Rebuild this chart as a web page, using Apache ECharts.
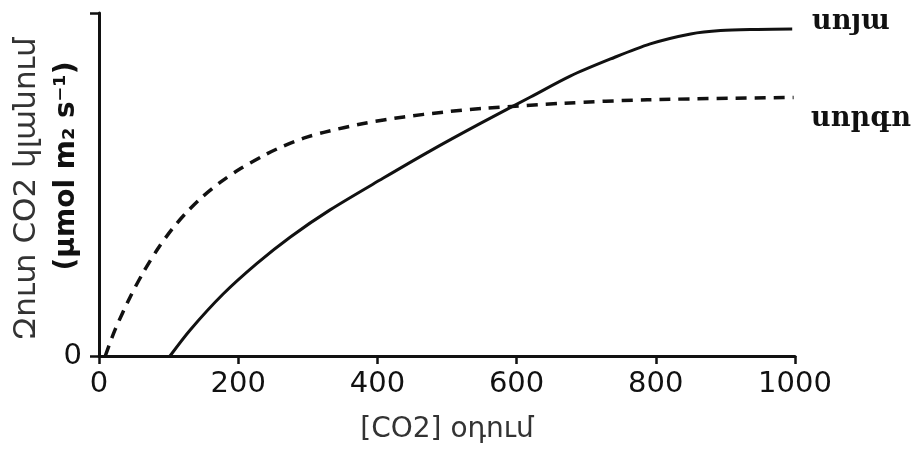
<!DOCTYPE html>
<html>
<head>
<meta charset="utf-8">
<script src="https://cdn.jsdelivr.net/npm/echarts@6/dist/echarts.min.js"></script>
<style>
html,body{margin:0;padding:0;background:#fff;}
#chart{width:917px;height:451px;}
</style>
</head>
<body>
<div id="chart"></div>
<script>
// ---- data ----
const xTicks = [0, 200, 400, 600, 800, 1000];
const yTickLabels = ['0'];
const soyX = [102, 131, 178, 227, 275, 332, 408, 476, 548, 620, 677, 735, 792, 850, 893, 946, 996];
const soyY = [0, 7.6, 18.0, 27.0, 34.7, 42.6, 51.8, 59.8, 67.8, 75.5, 81.6, 86.6, 91.0, 93.9, 94.9, 95.2, 95.3];
const sorgoX = [9, 23, 45, 64, 85, 105, 126, 148, 174, 200, 241, 265, 294, 323, 380, 438, 495, 553, 668, 788, 998];
const sorgoY = [0, 7.6, 17.3, 24.5, 31.4, 37.0, 41.9, 46.3, 50.6, 54.2, 58.9, 61.2, 63.5, 65.2, 67.8, 69.7, 71.1, 72.2, 73.7, 74.7, 75.4];
const seriesNames = ['սոյա', 'սորգո'];
const xAxisName = '[CO2] օդում';
const yAxisName1 = 'Զուտ CO2 կլանում';
const yAxisName2 = '(μmol m₂ s⁻¹)';

const zip = (xs, ys) => xs.map((x, i) => [x, ys[i]]);

const chart = echarts.init(document.getElementById('chart'), null, {renderer: 'canvas'});
const font = 'DejaVu Sans';
chart.setOption({
  animation: false,
  backgroundColor: '#fff',
  grid: {left: 99, right: 122, top: 13, bottom: 95, containLabel: false},
  xAxis: {
    type: 'value', min: 0, max: 1000, interval: 200,
    axisLine: {show: true, onZero: false, lineStyle: {color: '#111', width: 3}},
    axisTick: {show: true, length: 8, lineStyle: {color: '#111', width: 2.5}},
    axisLabel: {show: true, margin: 14, fontFamily: font, fontSize: 29, color: '#111',
      formatter: v => xTicks.includes(v) ? String(v) : ''},
    splitLine: {show: false}
  },
  yAxis: {
    type: 'value', min: 0, max: 100, interval: 100,
    axisLine: {show: true, lineStyle: {color: '#111', width: 3}},
    axisTick: {show: true, length: 9, lineStyle: {color: '#111', width: 2.5}},
    axisLabel: {show: true, margin: 17, fontFamily: font, fontSize: 29, color: '#111',
      formatter: v => (v === 0 ? yTickLabels[0] : '')},
    splitLine: {show: false}
  },
  series: [
    {
      name: seriesNames[0], type: 'line', data: zip(soyX, soyY),
      smooth: 0.3, showSymbol: false, clip: false,
      lineStyle: {color: '#111', width: 3}
    },
    {
      name: seriesNames[1], type: 'line', data: zip(sorgoX, sorgoY),
      smooth: 0.3, showSymbol: false, clip: false,
      lineStyle: {color: '#111', width: 3.5, type: [11, 8]}
    }
  ],
  graphic: [
    {type: 'text', left: 812, top: 8, style: {text: seriesNames[0], font: 'bold 27px "DejaVu Serif"', fill: '#111'}},
    {type: 'text', left: 811, top: 105, style: {text: seriesNames[1], font: 'bold 27px "DejaVu Serif"', fill: '#111'}},
    {type: 'text', x: 447, y: 430, style: {text: xAxisName, font: '28px "DejaVu Sans"', fill: '#333', align: 'center', verticalAlign: 'middle'}},
    {type: 'text', x: 27, y: 189, rotation: Math.PI / 2, style: {text: yAxisName1, font: '31px "DejaVu Sans"', fill: '#333', align: 'center', verticalAlign: 'middle'}},
    {type: 'text', x: 67, y: 166, rotation: Math.PI / 2, style: {text: yAxisName2, font: 'bold 28px "DejaVu Sans"', fill: '#111', align: 'center', verticalAlign: 'middle'}}
  ]
});
</script>
</body>
</html>
